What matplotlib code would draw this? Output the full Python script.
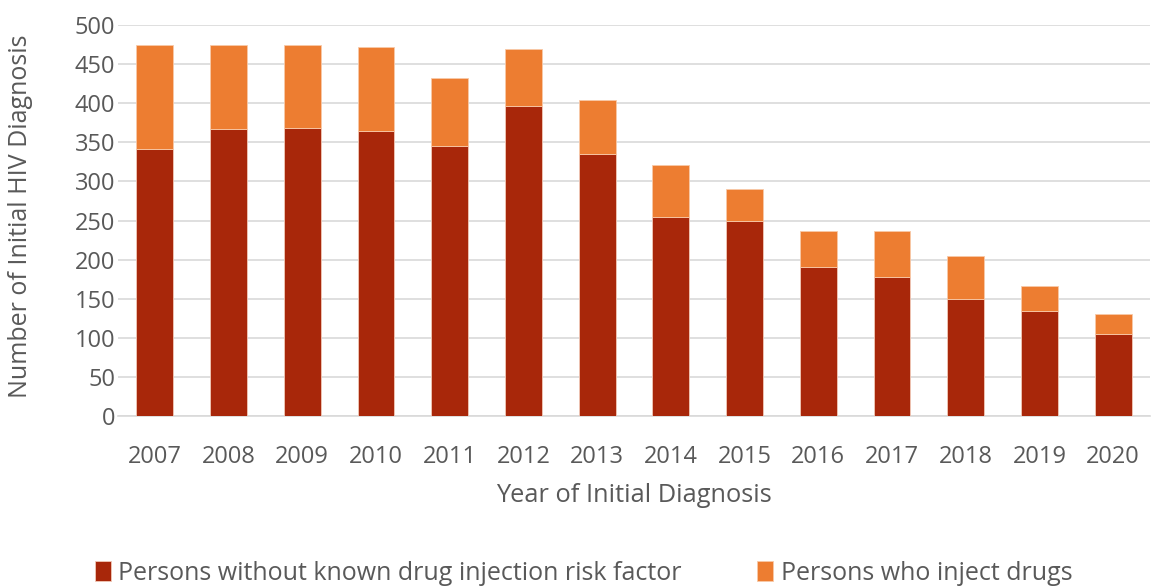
import matplotlib.pyplot as plt
import numpy as np

plt.rcParams['font.family'] = ['Open Sans', 'DejaVu Sans']

years = ['2007', '2008', '2009', '2010', '2011', '2012', '2013',
         '2014', '2015', '2016', '2017', '2018', '2019', '2020']
# persons without known drug injection risk factor
no_idu = [341, 367, 368, 365, 345, 396, 335, 254, 249, 190, 178, 150, 134, 105]
# persons who inject drugs (stacked on top)
idu = [133, 107, 107, 107, 87, 73, 69, 67, 41, 47, 58, 55, 32, 26]

red = '#A8270A'
orange = '#ED7D31'
txt = '#595959'

fig = plt.figure(figsize=(11.51, 5.88), dpi=100)
ax = fig.add_axes([118/1151, 1 - 416/588, 1032/1151, 391/588])

x = np.arange(len(years))
ax.bar(x, no_idu, width=0.5, color=red, edgecolor='#f2c9b8', linewidth=0.6,
       label='Persons without known drug injection risk factor', zorder=3)
ax.bar(x, idu, width=0.5, bottom=no_idu, color=orange, edgecolor='#f8c9a8',
       linewidth=0.6, label='Persons who inject drugs', zorder=3)

ax.set_xlim(-0.5, len(years) - 0.5)
ax.set_ylim(0, 500)
ax.set_yticks(range(0, 501, 50))
ax.set_xticks(x)
ax.set_xticklabels(years)
ax.grid(axis='y', color='#d9d9d9', linewidth=1.2, zorder=0)
for s in ['top', 'right', 'left']:
    ax.spines[s].set_visible(False)
ax.spines['bottom'].set_color('#d9d9d9')
ax.spines['bottom'].set_linewidth(1.2)
ax.tick_params(axis='both', length=0, labelsize=17, colors=txt)
ax.tick_params(axis='x', pad=21)
ax.tick_params(axis='y', pad=2)

ax.set_xlabel('Year of Initial Diagnosis', fontsize=18.3, color=txt, labelpad=10)
ax.set_ylabel('Number of Initial HIV Diagnosis', fontsize=18, color=txt)
ax.yaxis.set_label_coords(-0.082, 0.51)

fig.legend(loc='center', bbox_to_anchor=(0.507, 1 - 573/588), ncol=2, frameon=False,
           fontsize=18, labelcolor=txt, handlelength=0.65, handleheight=0.9,
           handletextpad=0.3, columnspacing=3.0)

fig.savefig('out.png', dpi=100)
